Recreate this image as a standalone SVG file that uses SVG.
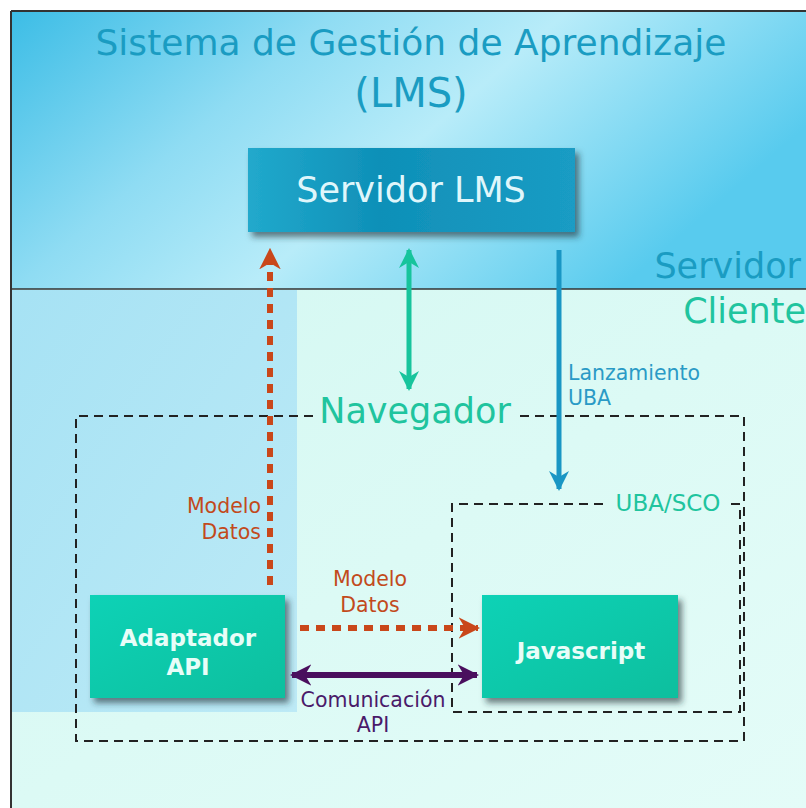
<svg xmlns="http://www.w3.org/2000/svg" width="806" height="808" viewBox="0 0 806 808">
<defs>
<linearGradient id="sky" x1="0" y1="0" x2="1" y2="0.4">
<stop offset="0" stop-color="#3cbde6"/>
<stop offset="0.35" stop-color="#8fdcf3"/>
<stop offset="0.6" stop-color="#b8ecf9"/>
<stop offset="1" stop-color="#58cbee"/>
</linearGradient>
<linearGradient id="client" x1="0" y1="0" x2="1" y2="1">
<stop offset="0" stop-color="#d4f8f2"/>
<stop offset="1" stop-color="#e4fcf8"/>
</linearGradient>
<linearGradient id="panel" x1="0" y1="0" x2="1" y2="1">
<stop offset="0" stop-color="#a6e2f4"/>
<stop offset="1" stop-color="#bdeaf6"/>
</linearGradient>
<linearGradient id="lmsbox" x1="0" y1="0" x2="1" y2="0">
<stop offset="0" stop-color="#21a9cc"/>
<stop offset="0.4" stop-color="#0f90b8"/>
<stop offset="1" stop-color="#1a9cc4"/>
</linearGradient>
<linearGradient id="greenbox" x1="0" y1="0" x2="1" y2="1">
<stop offset="0" stop-color="#0fd2b6"/>
<stop offset="1" stop-color="#0bbf9e"/>
</linearGradient>
<filter id="shadow" x="-10%" y="-10%" width="130%" height="140%">
<feDropShadow dx="4" dy="5" stdDeviation="3" flood-color="#1a2a30" flood-opacity="0.6"/>
</filter>
<marker id="ahOrange" viewBox="0 0 10 10" refX="9" refY="5" markerWidth="3.6" markerHeight="3.6" orient="auto-start-reverse" markerUnits="strokeWidth">
<path d="M0,0 L10,5 L0,10 L3,5 Z" fill="#c9471a"/>
</marker>
<marker id="ahGreen" viewBox="0 0 10 10" refX="9" refY="5" markerWidth="4" markerHeight="4" orient="auto-start-reverse" markerUnits="strokeWidth">
<path d="M0,0 L10,5 L0,10 L3,5 Z" fill="#17c49c"/>
</marker>
<marker id="ahBlue" viewBox="0 0 10 10" refX="9" refY="5" markerWidth="4" markerHeight="4" orient="auto-start-reverse" markerUnits="strokeWidth">
<path d="M0,0 L10,5 L0,10 L3,5 Z" fill="#1996c4"/>
</marker>
<marker id="ahPurple" viewBox="0 0 10 10" refX="9" refY="5" markerWidth="3.6" markerHeight="3.6" orient="auto-start-reverse" markerUnits="strokeWidth">
<path d="M0,0 L10,5 L0,10 L3,5 Z" fill="#4a0f5e"/>
</marker>
</defs>
<style>
.title{font-family:"DejaVu Sans",sans-serif;fill:#1a9cc2;}
.box{font-family:"DejaVu Sans",sans-serif;font-weight:bold;fill:#e8fdf8;font-size:23px;text-anchor:middle;}
.lbl{font-family:"DejaVu Sans",sans-serif;font-size:20.5px;}
.dash{fill:none;stroke:#222;stroke-width:2;stroke-dasharray:9 6;}
</style>
<rect x="0" y="0" width="806" height="808" fill="#ffffff"/>
<rect x="11" y="11" width="800" height="278" fill="url(#sky)"/>
<rect x="11" y="289" width="800" height="519" fill="url(#client)"/>
<rect x="11" y="290" width="286" height="422" fill="url(#panel)"/>
<line x1="11" y1="11" x2="806" y2="11" stroke="#333" stroke-width="2"/>
<line x1="11" y1="11" x2="11" y2="808" stroke="#333" stroke-width="2"/>
<line x1="11" y1="289" x2="806" y2="289" stroke="#333" stroke-width="1.5"/>
<text class="title" x="411" y="55" font-size="36" text-anchor="middle">Sistema de Gestión de Aprendizaje</text>
<text class="title" x="411" y="107" font-size="40" text-anchor="middle">(LMS)</text>
<text class="title" x="801" y="278" font-size="35" text-anchor="end" fill="#1a90ba">Servidor</text>
<text class="title" x="806" y="323" font-size="35" text-anchor="end" style="fill:#20c49e">Cliente</text>
<g id="navegador">
<path class="dash" d="M313,416 H76 V741 H744 V416 H516"/>
<text x="415" y="423" font-family="DejaVu Sans, sans-serif" font-size="35" fill="#20c49e" text-anchor="middle">Navegador</text>
</g>
<g id="ubasco">
<path class="dash" d="M603,504 H452 V712 H740 V504 H731"/>
<text x="668" y="511" font-family="DejaVu Sans, sans-serif" font-size="23" fill="#20c49e" text-anchor="middle">UBA/SCO</text>
</g>
<g id="servidor-lms">
<rect x="248" y="148" width="327" height="84" fill="url(#lmsbox)" filter="url(#shadow)"/>
<text x="411" y="202" font-family="DejaVu Sans, sans-serif" font-size="35" fill="#dff6fb" text-anchor="middle">Servidor LMS</text>
</g>
<g id="adaptador-api">
<rect x="90" y="595" width="195" height="103" fill="url(#greenbox)" filter="url(#shadow)"/>
<text class="box" x="188" y="646">Adaptador</text>
<text class="box" x="188" y="675">API</text>
</g>
<g id="javascript">
<rect x="482" y="595" width="196" height="103" fill="url(#greenbox)" filter="url(#shadow)"/>
<text class="box" x="581" y="659">Javascript</text>
</g>
<g id="connectors">
<line x1="270" y1="585" x2="270" y2="250" stroke="#c9471a" stroke-width="6" stroke-dasharray="9 7" marker-end="url(#ahOrange)"/>
<line x1="409" y1="250" x2="409" y2="389" stroke="#17c49c" stroke-width="5" marker-start="url(#ahGreen)" marker-end="url(#ahGreen)"/>
<line x1="559" y1="250" x2="559" y2="489" stroke="#1996c4" stroke-width="5" marker-end="url(#ahBlue)"/>
<line x1="300" y1="628" x2="478" y2="628" stroke="#c9471a" stroke-width="6" stroke-dasharray="9 7" marker-end="url(#ahOrange)"/>
<line x1="292" y1="675" x2="477" y2="675" stroke="#4a0f5e" stroke-width="6" marker-start="url(#ahPurple)" marker-end="url(#ahPurple)"/>
<text class="lbl" x="261" y="513" text-anchor="end" fill="#c24a1c">Modelo</text>
<text class="lbl" x="261" y="539" text-anchor="end" fill="#c24a1c">Datos</text>
<text class="lbl" x="370" y="586" text-anchor="middle" fill="#c24a1c">Modelo</text>
<text class="lbl" x="370" y="612" text-anchor="middle" fill="#c24a1c">Datos</text>
<text class="lbl" x="568" y="380" fill="#2a9ac6">Lanzamiento</text>
<text class="lbl" x="568" y="405" fill="#2a9ac6">UBA</text>
<text class="lbl" x="373" y="707" text-anchor="middle" fill="#4a1a6a">Comunicación</text>
<text class="lbl" x="373" y="732" text-anchor="middle" fill="#4a1a6a">API</text>
</g>
</svg>
